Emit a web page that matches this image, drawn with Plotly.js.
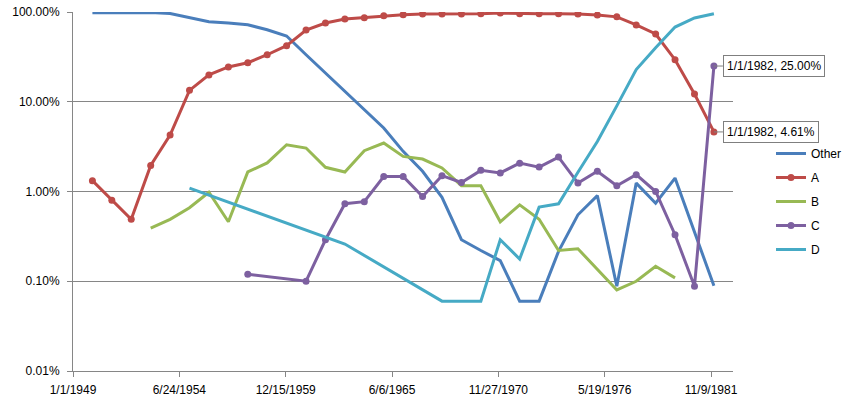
<!DOCTYPE html>
<html>
<head>
<meta charset="utf-8">
<script src="https://cdn.plot.ly/plotly-3.0.1.min.js"></script>
<style>html,body{margin:0;padding:0;background:#fff;}#chart{width:852px;height:405px;}</style>
</head>
<body>
<div id="chart"></div>
<script>
// Data (percent values), one entry per year 1950..1982
const years = [1950,1951,1952,1953,1954,1955,1956,1957,1958,1959,1960,1961,1962,1963,1964,1965,1966,1967,1968,1969,1970,1971,1972,1973,1974,1975,1976,1977,1978,1979,1980,1981,1982];
const other = [98,98,99.5,98.5,96,85.7,78,75.4,72,63.5,54,33.4,20.9,12.8,8.1,5.1,2.8,1.68,0.86,0.29,0.22,0.17,0.06,0.06,0.215,0.55,0.9,0.088,1.24,0.74,1.41,0.35,0.089];
const seriesA = [1.32,0.8,0.49,1.95,4.26,13.4,19.9,24.4,27.2,33.4,42.2,63,75.4,83.6,86.4,91,93.3,95,95,95,95.7,97.4,95.7,95.7,95.5,95.3,92.5,88.3,71.8,56.9,29.4,12.2,4.61];
const seriesB = [null,null,null,0.39,0.49,0.66,0.98,0.46,1.65,2.08,3.32,3.05,1.86,1.65,2.85,3.47,2.46,2.3,1.83,1.16,1.16,0.46,0.71,0.49,0.22,0.23,0.135,0.08,0.1,0.147,0.109,null,null];
const seriesC = [null,null,null,null,null,null,null,null,0.12,null,null,0.10,0.29,0.73,0.77,1.47,1.47,0.88,1.5,1.26,1.72,1.61,2.07,1.87,2.42,1.24,1.68,1.16,1.54,1.0,0.33,0.088,25];
const seriesD = [null,null,null,null,null,1.09,null,null,null,null,null,null,null,0.26,null,null,null,null,0.06,0.06,0.06,0.29,0.177,0.67,0.73,1.64,3.6,9.0,22.8,40,68,85.7,95.7];
const seriesNames = ['Other','A','B','C','D'];
const xTickVals = ['1949-01-01','1954-06-24','1959-12-15','1965-06-06','1970-11-27','1976-05-19','1981-11-09'];
const xTickText = ['1/1/1949','6/24/1954','12/15/1959','6/6/1965','11/27/1970','5/19/1976','11/9/1981'];
const yTickVals = [0.01,0.1,1,10,100];
const yTickText = ['0.01%','0.10%','1.00%','10.00%','100.00%'];

const dates = years.map(y => y + '-01-01');
const colors = ['#4A7EBB','#BE4B48','#98B954','#7D60A0','#46AAC5'];
const values = [other, seriesA, seriesB, seriesC, seriesD];
const withMarkers = [false, true, false, true, false];

const traces = values.map((v, i) => ({
  x: dates, y: v, name: seriesNames[i], type: 'scatter',
  mode: withMarkers[i] ? 'lines+markers' : 'lines',
  connectgaps: true,
  line: {color: colors[i], width: 3},
  marker: {color: colors[i], size: 7},
  legendgroup: 'g' + i,
  hoverinfo: 'skip'
}));

const font = {family: '"Liberation Sans", Arial, sans-serif', size: 12, color: '#000'};
const last = years.length - 1;
const lastDate = years[last];
function labelFor(v){ return '1/1/' + lastDate + ', ' + v.toFixed(2) + '%'; }
const annots = [seriesC, seriesA].map(s => ({
  x: dates[last], y: Math.log10(s[last]), xref: 'x', yref: 'y',
  text: labelFor(s[last]), showarrow: true, arrowhead: 0, arrowwidth: 1, arrowcolor: '#7f7f7f',
  ax: 9, ay: 0, xanchor: 'left', yanchor: 'middle',
  bordercolor: '#7f7f7f', borderwidth: 1, borderpad: 3, bgcolor: '#fff', font: font
}));

const layout = {
  width: 852, height: 405,
  margin: {l: 73, r: 119, t: 12, b: 34, pad: 0},
  paper_bgcolor: '#fff', plot_bgcolor: '#fff',
  font: font,
  showlegend: true,
  legend: {xref: 'container', yref: 'container', x: 771/852, y: 1 - 139/405, xanchor: 'left', yanchor: 'top',
           font: font, tracegroupgap: 5, bgcolor: 'rgba(0,0,0,0)'},
  xaxis: {
    type: 'date', range: ['1949-01-01', '1982-12-26'],
    tickmode: 'array', tickvals: xTickVals, ticktext: xTickText,
    showgrid: false, zeroline: false, showline: true, linecolor: '#868686', linewidth: 1,
    ticks: 'outside', ticklen: 5, tickcolor: '#868686', tickfont: font, ticklabelstandoff: 3
  },
  yaxis: {
    type: 'log', range: [-2, 2],
    tickmode: 'array', tickvals: yTickVals, ticktext: yTickText,
    showgrid: true, gridcolor: '#868686', gridwidth: 1, zeroline: false,
    showline: true, linecolor: '#868686', linewidth: 1,
    ticks: 'outside', ticklen: 5, tickcolor: '#868686', tickfont: font, ticklabelstandoff: 5
  },
  annotations: annots
};

Plotly.newPlot('chart', traces, layout, {displayModeBar: false, staticPlot: true});
</script>
</body>
</html>
